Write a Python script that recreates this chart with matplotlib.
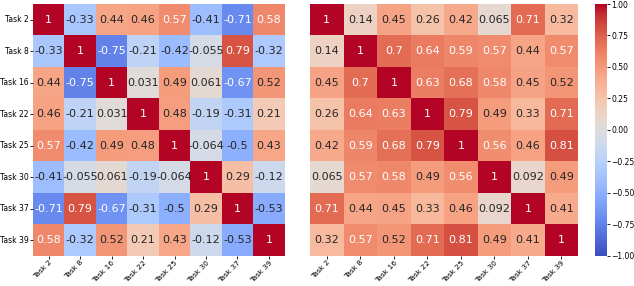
import numpy as np
import matplotlib
matplotlib.use('Agg')
import matplotlib.pyplot as plt
import seaborn as sns

tasks = ['Task 2', 'Task 8', 'Task 16', 'Task 22', 'Task 25', 'Task 30', 'Task 37', 'Task 39']

corr_left = np.array([
    [1, -0.33, 0.44, 0.46, 0.57, -0.41, -0.71, 0.58],
    [-0.33, 1, -0.75, -0.21, -0.42, -0.055, 0.79, -0.32],
    [0.44, -0.75, 1, 0.031, 0.49, 0.061, -0.67, 0.52],
    [0.46, -0.21, 0.031, 1, 0.48, -0.19, -0.31, 0.21],
    [0.57, -0.42, 0.49, 0.48, 1, -0.064, -0.5, 0.43],
    [-0.41, -0.055, 0.061, -0.19, -0.064, 1, 0.29, -0.12],
    [-0.71, 0.79, -0.67, -0.31, -0.5, 0.29, 1, -0.53],
    [0.58, -0.32, 0.52, 0.21, 0.43, -0.12, -0.53, 1],
])

corr_right = np.array([
    [1, 0.14, 0.45, 0.26, 0.42, 0.065, 0.71, 0.32],
    [0.14, 1, 0.7, 0.64, 0.59, 0.57, 0.44, 0.57],
    [0.45, 0.7, 1, 0.63, 0.68, 0.58, 0.45, 0.52],
    [0.26, 0.64, 0.63, 1, 0.79, 0.49, 0.33, 0.71],
    [0.42, 0.59, 0.68, 0.79, 1, 0.56, 0.46, 0.81],
    [0.065, 0.57, 0.58, 0.49, 0.56, 1, 0.092, 0.49],
    [0.71, 0.44, 0.45, 0.33, 0.46, 0.092, 1, 0.41],
    [0.32, 0.57, 0.52, 0.71, 0.81, 0.49, 0.41, 1],
])

fig = plt.figure(figsize=(6.34, 2.86), dpi=100)
ax1 = fig.add_axes([0.052, 0.105, 0.397, 0.881])
ax2 = fig.add_axes([0.489, 0.105, 0.423, 0.881])
cax = fig.add_axes([0.9385, 0.105, 0.019, 0.881])

sns.heatmap(corr_left, ax=ax1, cmap='coolwarm', vmin=-1, vmax=1, annot=True,
            annot_kws={'fontsize': 8}, cbar=False,
            xticklabels=tasks, yticklabels=tasks)
sns.heatmap(corr_right, ax=ax2, cmap='coolwarm', vmin=-1, vmax=1, annot=True,
            annot_kws={'fontsize': 8}, cbar=True, cbar_ax=cax,
            xticklabels=tasks, yticklabels=False)

for ax in (ax1, ax2):
    ax.tick_params(length=2, width=0.6, pad=1)
    ax.tick_params(axis='x', pad=0.5)
    plt.setp(ax.get_xticklabels(), rotation=45, ha='right', rotation_mode='anchor', fontsize=5.4)
ax1.set_yticklabels(tasks, rotation=0, fontsize=5.5)
cax.set_yticks([-1, -0.75, -0.5, -0.25, 0, 0.25, 0.5, 0.75, 1])
cax.tick_params(labelsize=5.5, length=2, width=0.6, pad=1)

fig.savefig('out.png', dpi=100)
